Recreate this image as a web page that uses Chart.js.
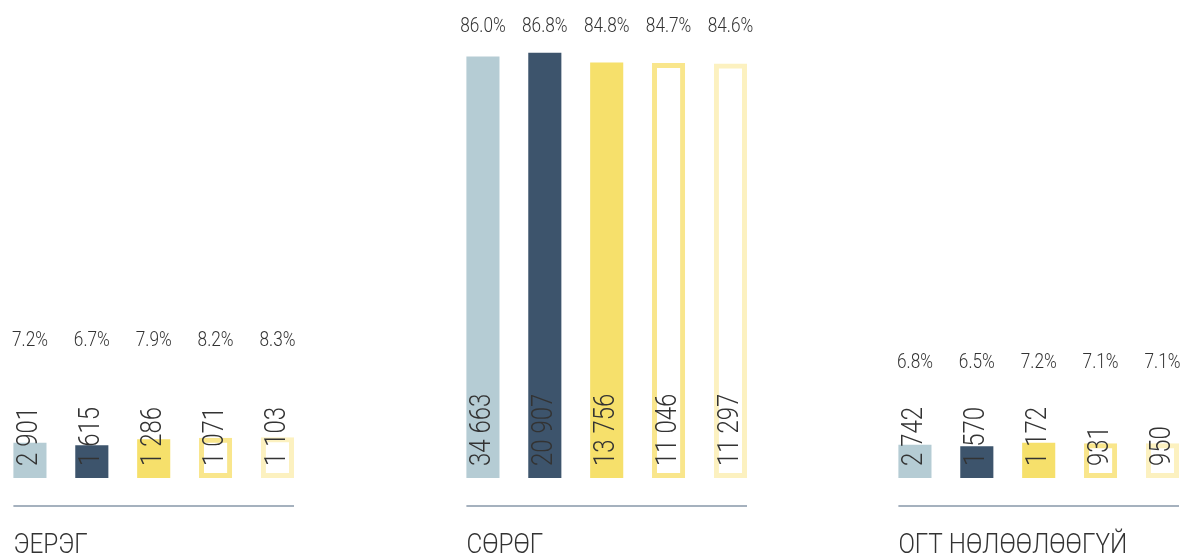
<!DOCTYPE html>
<html>
<head>
<meta charset="utf-8">
<script src="https://cdn.jsdelivr.net/npm/chart.js@4"></script>
<style>
  body { margin: 0; background: #fff; }
  #wrap { position: relative; width: 1189px; height: 558px; overflow: hidden; background: #fff; }
  #wrap canvas { position: absolute; top: 0; }
</style>
</head>
<body>
<div id="wrap">
  <canvas id="chart0" width="350" height="558"></canvas>
  <canvas id="chart1" width="350" height="558"></canvas>
  <canvas id="chart2" width="350" height="558"></canvas>
</div>
<script>
// groups and values
const groups = ["ЭЕРЭГ", "СӨРӨГ", "ОГТ НӨЛӨӨЛӨӨГҮЙ"];

const eeregPct = [7.2, 6.7, 7.9, 8.2, 8.3];
const sorogPct = [86.0, 86.8, 84.8, 84.7, 84.6];
const ogtPct = [6.8, 6.5, 7.2, 7.1, 7.1];

const eeregCount = [2901, 1615, 1286, 1071, 1103];
const sorogCount = [34663, 20907, 13756, 11046, 11297];
const ogtCount = [2742, 1570, 1172, 931, 950];

const pctValues = [eeregPct, sorogPct, ogtPct];
const countValues = [eeregCount, sorogCount, ogtCount];

// bar styles (same order in every group)
const fills = ["#b5ccd4", "#3d546c", "#f6e06b", "rgba(0,0,0,0)", "rgba(0,0,0,0)"];
const borders = ["#b5ccd4", "#3d546c", "#f6e06b", "#f9e68c", "#fcf1c0"];
const borderWidths = [0, 0, 0, 5, 5];

// layout of the three panels
const areaLeft = [-0.9, 452.1, 884.1];
const areaWidth = 309.4;
const pctLabelY = [338, 24, 360];
const textColor = "#333333";

const fmt = (n) => String(n).replace(/\B(?=(\d{3})+(?!\d))/g, " ");

const drawText = (ctx, text, x, y, font, sx, align, baseline, rotate) => {
  ctx.save();
  ctx.translate(x, y);
  if (rotate) ctx.rotate(-Math.PI / 2);
  ctx.scale(sx, 1);
  ctx.font = font;
  ctx.fillStyle = textColor;
  ctx.textAlign = align;
  ctx.textBaseline = baseline;
  ctx.fillText(text, 0, 0);
  ctx.restore();
};

const labelsPlugin = {
  id: "groupLabels",
  afterDraw(chart) {
    const ctx = chart.ctx;
    const g = chart.options.plugins.groupLabels.group;
    const bars = chart.getDatasetMeta(0).data;
    const counts = countValues[g];
    const pcts = pctValues[g];

    bars.forEach((bar, i) => {
      // count, rotated, from the bottom of the bar
      drawText(ctx, fmt(counts[i]), bar.x, bar.base - 12, "300 30px Roboto", 0.8, "left", "middle", true);
      // share above the bars
      drawText(ctx, pcts[i].toFixed(1) + "%", bar.x, pctLabelY[g] + 8, "300 21px Roboto", 0.82, "center", "alphabetic", false);
    });

    const first = bars[0];
    const last = bars[bars.length - 1];
    const x0 = first.x - first.width / 2;
    const x1 = last.x + last.width / 2;
    const y0 = first.base + 28;

    ctx.save();
    ctx.strokeStyle = "#8797a8";
    ctx.lineWidth = 1.5;
    ctx.beginPath();
    ctx.moveTo(x0, y0);
    ctx.lineTo(x1, y0);
    ctx.stroke();
    ctx.restore();

    drawText(ctx, groups[g], x0, first.base + 75, "300 27px Roboto", 0.9, "left", "alphabetic", false);
  },
};

groups.forEach((name, g) => {
  const canvas = document.getElementById("chart" + g);
  canvas.style.left = (areaLeft[g] - 20) + "px";

  new Chart(canvas.getContext("2d"), {
    type: "bar",
    data: {
      labels: [1, 2, 3, 4, 5],
      datasets: [
        {
          data: pctValues[g],
          backgroundColor: fills,
          borderColor: borders,
          borderWidth: borderWidths,
          borderSkipped: false,
          categoryPercentage: 1,
          barPercentage: 0.535,
        },
      ],
    },
    options: {
      responsive: false,
      animation: false,
      devicePixelRatio: 1,
      layout: {
        padding: { left: 20, right: 350 - 20 - areaWidth, top: 37, bottom: 80 },
      },
      scales: {
        x: { display: false },
        y: { display: false, min: 0, max: 90 },
      },
      plugins: {
        legend: { display: false },
        tooltip: { enabled: false },
        groupLabels: { group: g },
      },
    },
    plugins: [labelsPlugin],
  });
});
</script>
</body>
</html>
